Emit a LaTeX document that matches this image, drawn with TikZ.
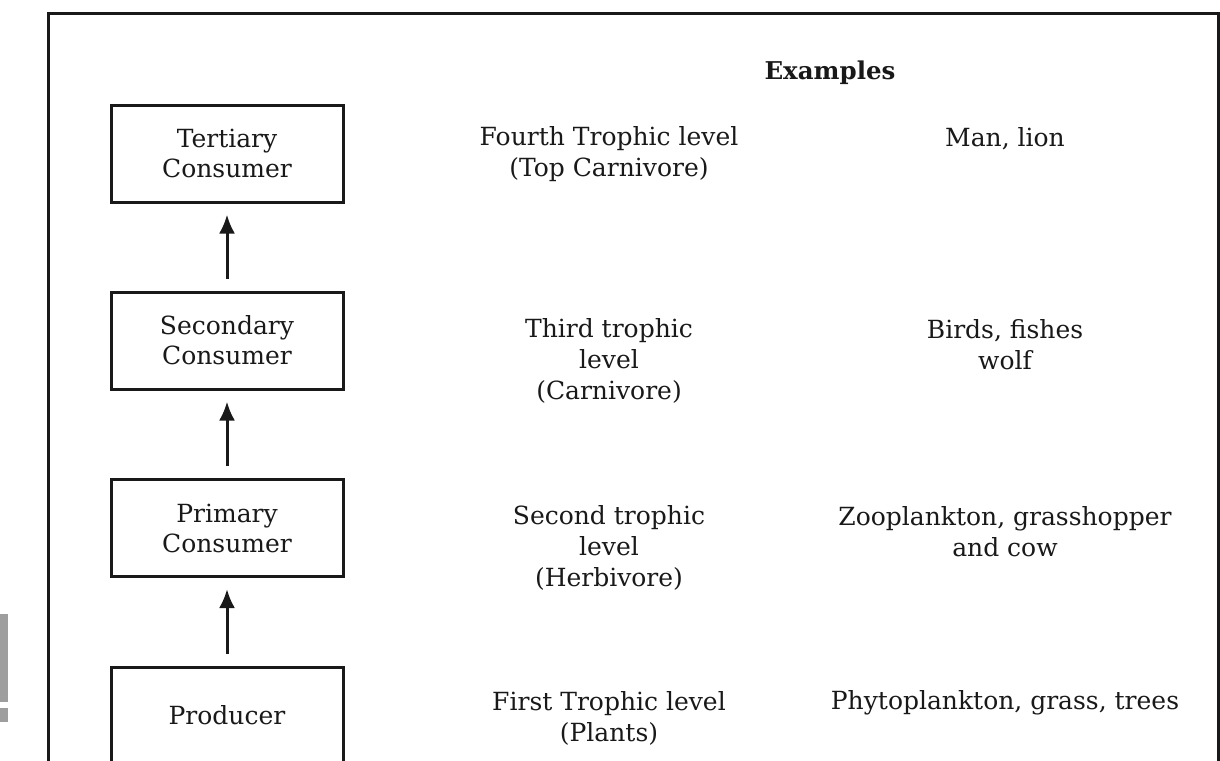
\documentclass[tikz,border=0pt]{standalone}
\usepackage{fontspec}
\setmainfont{DejaVu Serif}
\usetikzlibrary{arrows.meta}
\begin{document}
\begin{tikzpicture}[x=1pt,y=-1pt,
  lvlbox/.style={draw=black!90,line width=3pt,minimum width=232pt,minimum height=97pt,inner sep=0pt,align=center,font=\fontsize{25}{30}\selectfont,text=black!90},
  lbl/.style={align=center,inner sep=0pt,font=\fontsize{25}{31}\selectfont,text=black!90},
  flow/.style={line width=3pt,draw=black!90,-{Latex[length=19pt,width=16pt]}}]
\useasboundingbox (0,0) rectangle (1220,760);
\clip (0,0) rectangle (1220,760);
\fill[white] (0,0) rectangle (1220,760);
% gray marks at left edge
\fill[black!38] (0,614) rectangle (8,702);
\fill[black!38] (0,708) rectangle (8,722);
% outer frame
\draw[line width=3pt,black!90] (48,800) -- (48,14) -- (1218,14) -- (1218,800);
% boxes
\node[lvlbox] (ter) at (227,153.5) {Tertiary\\Consumer};
\node[lvlbox] (sec) at (227,340.5) {Secondary\\Consumer};
\node[lvlbox] (pri) at (227,528) {Primary\\Consumer};
\node[lvlbox] (pro) at (227,715.5) {Producer};
% arrows
\draw[flow] ([yshift=12pt]pro.north) -- ([yshift=-11pt]pri.south);
\draw[flow] ([yshift=12pt]pri.north) -- ([yshift=-11pt]sec.south);
\draw[flow] ([yshift=12pt]sec.north) -- ([yshift=-11pt]ter.south);
% heading
\node[lbl,font=\fontsize{24.5}{31}\selectfont\bfseries] (ex) at (830,73) {Examples};
% level texts
\node[lbl] (l4) at (609,154) {Fourth Trophic level\\(Top Carnivore)};
\node[lbl] (l3) at (609,360.5) {Third trophic\\level\\(Carnivore)};
\node[lbl] (l2) at (609,547.5) {Second trophic\\level\\(Herbivore)};
\node[lbl] (l1) at (609,718) {First Trophic level\\(Plants)};
% examples
\node[lbl] (e4) at (1005,138.5) {Man, lion};
\node[lbl] (e3) at (1005,345) {Birds, fishes\\wolf};
\node[lbl] (e2) at (1005,532) {Zooplankton, grasshopper\\and cow};
\node[lbl] (e1) at (1005,702.5) {Phytoplankton, grass, trees};
\end{tikzpicture}
\end{document}
